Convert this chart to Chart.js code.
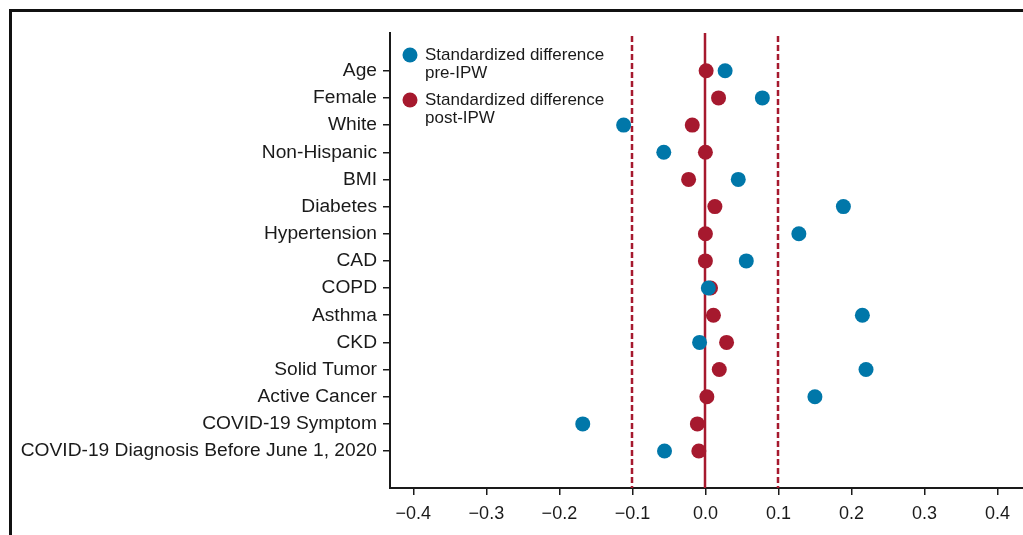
<!DOCTYPE html>
<html lang="en">
<head>
<meta charset="UTF-8">
<title>Standardized differences pre/post IPW</title>
<script src="https://cdn.jsdelivr.net/npm/chart.js"></script>
<style>
    body { margin: 0; background: #ffffff; }
    #wrap { position: relative; width: 1023px; height: 535px; }
</style>
</head>
<body>
<div id="wrap"><canvas id="chart"></canvas></div>
<script>
// covariates, top to bottom
const categories = [
    'Age', 'Female', 'White', 'Non-Hispanic', 'BMI', 'Diabetes', 'Hypertension',
    'CAD', 'COPD', 'Asthma', 'CKD', 'Solid Tumor', 'Active Cancer',
    'COVID-19 Symptom', 'COVID-19 Diagnosis Before June 1, 2020'
];
// standardized difference before weighting
const preIPW = [0.027, 0.078, -0.112, -0.057, 0.045, 0.189, 0.128,
    0.056, 0.004, 0.215, -0.008, 0.220, 0.150, -0.168, -0.056];
// standardized difference after weighting
const postIPW = [0.001, 0.018, -0.018, 0.000, -0.023, 0.013, 0.000,
    0.000, 0.007, 0.011, 0.029, 0.019, 0.002, -0.011, -0.009];
const xTicks = [-0.4, -0.3, -0.2, -0.1, 0.0, 0.1, 0.2, 0.3, 0.4];
const refLines = [-0.1, 0.1];

const legendLabels = [
    ['Standardized difference', 'pre-IPW'],
    ['Standardized difference', 'post-IPW']
];

const BLUE = '#0077a9';
const RED = '#a6192e';
const INK = '#1a1a1a';
const FONT = '"Liberation Sans", Arial, Helvetica, sans-serif';

// outer frame (only left and top edges are in view)
const framePlugin = {
    id: 'frame',
    beforeDraw(chart) {
        const ctx = chart.ctx;
        ctx.save();
        ctx.strokeStyle = '#111';
        ctx.lineWidth = 3;
        ctx.beginPath();
        ctx.moveTo(10.5, 535);
        ctx.lineTo(10.5, 10.5);
        ctx.lineTo(1023, 10.5);
        ctx.stroke();
        ctx.restore();
    }
};

// zero line and +/-0.1 dashed lines
const refLinePlugin = {
    id: 'refLines',
    beforeDatasetsDraw(chart) {
        const ctx = chart.ctx;
        const x = chart.scales.x;
        const bottom = chart.chartArea.bottom;
        ctx.save();
        ctx.strokeStyle = RED;
        ctx.lineWidth = 2.5;
        refLines.forEach(v => {
            const px = Math.round(x.getPixelForValue(v));
            ctx.setLineDash([6, 3]);
            ctx.beginPath();
            ctx.moveTo(px, 36);
            ctx.lineTo(px, bottom);
            ctx.stroke();
        });
        ctx.setLineDash([]);
        const px0 = Math.round(x.getPixelForValue(0));
        ctx.beginPath();
        ctx.moveTo(px0, chart.chartArea.top);
        ctx.lineTo(px0, bottom);
        ctx.stroke();
        ctx.restore();
    }
};

// legend in the upper left of the plot
const legendPlugin = {
    id: 'cornerLegend',
    afterDraw(chart) {
        const ctx = chart.ctx;
        const colors = [BLUE, RED];
        ctx.save();
        ctx.font = '17px ' + FONT;
        ctx.textBaseline = 'middle';
        legendLabels.forEach((lines, i) => {
            const y = 55 + i * 45;
            ctx.fillStyle = colors[i];
            ctx.beginPath();
            ctx.arc(410, y, 7.5, 0, Math.PI * 2);
            ctx.fill();
            ctx.fillStyle = INK;
            lines.forEach((t, j) => ctx.fillText(t, 425, y + j * 18));
        });
        ctx.restore();
    }
};

const toPoints = vals => vals.map((v, i) => ({ x: v, y: i + 1 }));

new Chart(document.getElementById('chart'), {
    type: 'scatter',
    data: {
        datasets: [
            {
                label: 'Standardized difference pre-IPW',
                data: toPoints(preIPW),
                backgroundColor: BLUE,
                borderWidth: 0,
                pointRadius: 7.5,
                order: 0
            },
            {
                label: 'Standardized difference post-IPW',
                data: toPoints(postIPW),
                backgroundColor: RED,
                borderWidth: 0,
                pointRadius: 7.5,
                order: 1
            }
        ]
    },
    options: {
        responsive: true,
        maintainAspectRatio: false,
        animation: false,
        layout: { autoPadding: false, padding: { top: 33, right: 0, left: 0, bottom: 0 } },
        plugins: {
            legend: { display: false },
            tooltip: { enabled: false }
        },
        scales: {
            x: {
                type: 'linear',
                min: -0.432,
                max: 0.435,
                afterFit(scale) {
                    scale.height = 47;
                    scale.paddingLeft = 0;
                    scale.paddingRight = 0;
                },
                afterBuildTicks(scale) { scale.ticks = xTicks.map(v => ({ value: v })); },
                border: { display: true, color: INK, width: 2 },
                grid: { drawOnChartArea: false, drawTicks: true, tickLength: 7, tickColor: INK, lineWidth: 1.5 },
                ticks: {
                    padding: 8,
                    color: INK,
                    font: { family: FONT, size: 18 },
                    callback: v => (v < 0 ? '\u2212' : '') + Math.abs(v).toFixed(1)
                }
            },
            y: {
                type: 'linear',
                reverse: true,
                min: -0.39,
                max: 16.36,
                afterFit(scale) { scale.width = 390; },
                afterBuildTicks(scale) { scale.ticks = categories.map((c, i) => ({ value: i + 1 })); },
                border: { display: true, color: INK, width: 2 },
                grid: { drawOnChartArea: false, drawTicks: true, tickLength: 7, tickColor: INK, lineWidth: 1.5 },
                ticks: {
                    padding: 6,
                    color: INK,
                    font: { family: FONT, size: 19.2 },
                    callback: v => categories[Math.round(v) - 1] || ''
                }
            }
        }
    },
    plugins: [framePlugin, refLinePlugin, legendPlugin]
});
</script>
</body>
</html>
